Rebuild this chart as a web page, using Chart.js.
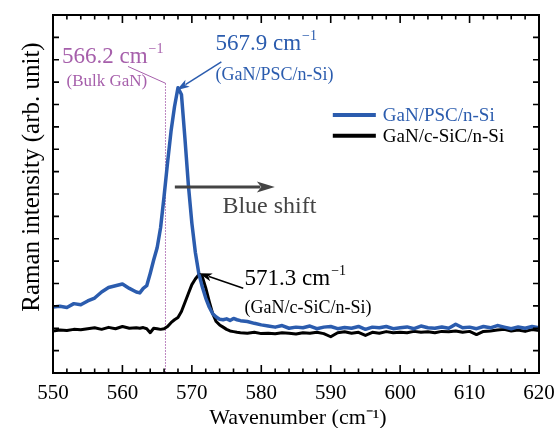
<!DOCTYPE html>
<html>
<head>
<meta charset="utf-8">
<script src="https://cdn.jsdelivr.net/npm/chart.js@4/dist/chart.umd.min.js"></script>
<style>
  html, body { margin: 0; padding: 0; background: #fff; }
  #wrap { width: 556px; height: 428px; }
</style>
</head>
<body>
<div id="wrap"><canvas id="raman"></canvas></div>
<script>
// wavenumber grid (cm-1), finer around the peaks
const wavenumber = [
  550, 551, 552, 553, 554, 555, 556, 557, 558, 559, 560, 561, 562,
  562.5, 563, 563.5, 564, 564.5, 565, 565.5, 566, 566.5, 567, 567.5, 568, 568.5,
  569, 569.5, 570, 570.5, 571, 571.5, 572, 572.5, 573, 573.5, 574, 574.5, 575,
  575.5, 576, 576.5,
  577, 578, 579, 580, 581, 582, 583, 584, 585, 586, 587, 588, 589, 590,
  591, 592, 593, 594, 595, 596, 597, 598, 599, 600, 601, 602, 603, 604,
  605, 606, 607, 608, 609, 610, 611, 612, 613, 614, 615, 616, 617, 618, 619, 620
];

const pscIntensity = [
  2.95, 2.98, 2.93, 3.10, 3.05, 3.22, 3.35, 3.62, 3.82, 3.90, 3.98, 3.78, 3.62,
  3.58, 3.78, 3.90, 4.45, 5.05, 5.60, 6.50, 7.90, 9.40, 10.80, 11.90, 12.75, 12.45,
  10.50, 8.40, 6.70, 5.40, 4.45, 3.85, 3.35, 2.95, 2.65, 2.50, 2.40, 2.38, 2.42,
  2.35, 2.44, 2.38,
  2.34, 2.30, 2.22, 2.15, 2.10, 2.05, 2.12, 2.00, 2.05, 2.02, 2.10, 1.98, 2.05, 2.08,
  1.98, 2.03, 2.00, 2.08, 1.95, 2.05, 2.02, 2.08, 1.98, 2.02, 2.06, 1.98, 2.10, 2.02,
  2.00, 2.06, 2.00, 2.18, 2.02, 2.05, 1.98, 2.08, 2.02, 2.12, 2.05, 1.98, 2.06, 2.00, 2.08, 2.02
];

const sicIntensity = [
  1.88, 1.92, 1.90, 1.95, 1.93, 1.98, 2.02, 1.95, 2.04, 1.98, 2.08, 2.00, 2.02,
  2.00, 2.03, 1.98, 1.80, 2.00, 1.98, 1.95, 1.98, 2.08, 2.25, 2.38, 2.48, 2.75,
  3.15, 3.55, 3.95, 4.20, 4.40, 4.30, 3.80, 3.20, 2.65, 2.30, 2.15, 2.05, 1.95,
  1.88, 1.85, 1.82,
  1.80, 1.78, 1.82, 1.76, 1.78, 1.75, 1.80, 1.78, 1.74, 1.80, 1.78, 1.82, 1.76, 1.62,
  1.80, 1.84, 1.78, 1.82, 1.68, 1.82, 1.78, 1.85, 1.80, 1.82, 1.80, 1.86, 1.82, 1.84,
  1.80, 1.86, 1.84, 1.88, 1.82, 1.86, 1.72, 1.86, 1.88, 1.92, 1.95, 1.88, 1.92, 1.86, 1.94, 1.90
];

const seriesNames = ['GaN/PSC/n-Si', 'GaN/c-SiC/n-Si'];
const seriesColors = ['#2b5cae', '#000000'];

const bulkPeak = 566.2;
const pscPeak = 567.9;
const sicPeak = 571.3;

const serif = '"Liberation Serif", "Times New Roman", serif';
const purple = '#a65fab';

function pointsOf(ys) {
  return wavenumber.map((x, i) => ({ x: x, y: ys[i] }));
}

function arrow(ctx, x1, y1, x2, y2, color, width, headLen, headW) {
  const ang = Math.atan2(y2 - y1, x2 - x1);
  ctx.save();
  ctx.strokeStyle = color;
  ctx.fillStyle = color;
  ctx.lineWidth = width;
  ctx.beginPath();
  ctx.moveTo(x1, y1);
  ctx.lineTo(x2 - Math.cos(ang) * headLen * 0.8, y2 - Math.sin(ang) * headLen * 0.8);
  ctx.stroke();
  ctx.translate(x2, y2);
  ctx.rotate(ang);
  ctx.beginPath();
  ctx.moveTo(0, 0);
  ctx.lineTo(-headLen, -headW / 2);
  ctx.lineTo(-headLen * 0.75, 0);
  ctx.lineTo(-headLen, headW / 2);
  ctx.closePath();
  ctx.fill();
  ctx.restore();
}

// "566.2 cm" followed by a small raised "-1"
function cmLabel(ctx, value, x, y, size, color) {
  ctx.save();
  ctx.fillStyle = color;
  ctx.textAlign = 'left';
  ctx.textBaseline = 'alphabetic';
  ctx.font = size + 'px ' + serif;
  const main = value.toFixed(1) + ' cm';
  ctx.fillText(main, x, y);
  const w = ctx.measureText(main).width;
  ctx.font = Math.round(size * 0.6) + 'px ' + serif;
  ctx.fillText('\u22121', w + x + 1, y - size * 0.42);
  ctx.restore();
}

const decorations = {
  id: 'decorations',
  beforeDatasetsDraw(chart) {
    const { ctx, scales: { x, y } } = chart;
    // dotted reference line for bulk GaN
    ctx.save();
    ctx.strokeStyle = purple;
    ctx.lineWidth = 1;
    ctx.setLineDash([1.5, 1.5]);
    ctx.beginPath();
    ctx.moveTo(x.getPixelForValue(bulkPeak), y.getPixelForValue(12.95));
    ctx.lineTo(x.getPixelForValue(bulkPeak), y.bottom);
    ctx.stroke();
    ctx.setLineDash([]);
    ctx.beginPath();
    ctx.moveTo(x.getPixelForValue(560.8), y.getPixelForValue(13.7));
    ctx.lineTo(x.getPixelForValue(bulkPeak), y.getPixelForValue(12.95));
    ctx.stroke();
    ctx.restore();
  },
  afterDatasetsDraw(chart) {
    const { ctx, chartArea: a, scales: { x, y } } = chart;

    // frame
    ctx.save();
    ctx.strokeStyle = '#000';
    ctx.lineWidth = 2;
    ctx.strokeRect(a.left, a.top, a.right - a.left, a.bottom - a.top);

    // inward ticks
    ctx.lineWidth = 1.6;
    ctx.beginPath();
    for (let v = 550; v <= 620; v += 2) {
      const px = x.getPixelForValue(v);
      const len = v % 10 === 0 ? 8 : 4.5;
      ctx.moveTo(px, a.bottom); ctx.lineTo(px, a.bottom - len);
      ctx.moveTo(px, a.top); ctx.lineTo(px, a.top + len);
    }
    for (let v = 0; v <= 16; v += 1) {
      const py = y.getPixelForValue(v);
      ctx.moveTo(a.left, py); ctx.lineTo(a.left + 6, py);
      ctx.moveTo(a.right, py); ctx.lineTo(a.right - 6, py);
    }
    ctx.stroke();
    ctx.restore();

    // axis titles
    ctx.save();
    ctx.fillStyle = '#000';
    ctx.textAlign = 'center';
    ctx.textBaseline = 'alphabetic';
    ctx.font = '22px ' + serif;
    ctx.fillText('Wavenumber (cm\u207B\u00B9)', (a.left + a.right) / 2 + 2, 424);
    ctx.translate(39, 177);
    ctx.rotate(-Math.PI / 2);
    ctx.font = '25px ' + serif;
    ctx.fillText('Raman intensity (arb. unit)', 0, 0);
    ctx.restore();

    // peak labels
    cmLabel(ctx, bulkPeak, x.getPixelForValue(551.3), y.getPixelForValue(13.85), 23, purple);
    cmLabel(ctx, pscPeak, x.getPixelForValue(573.4), y.getPixelForValue(14.43), 23, seriesColors[0]);
    cmLabel(ctx, sicPeak, x.getPixelForValue(577.6), y.getPixelForValue(3.94), 23, '#000');

    ctx.save();
    ctx.textAlign = 'left';
    ctx.font = '17px ' + serif;
    ctx.fillStyle = purple;
    ctx.fillText('(Bulk GaN)', x.getPixelForValue(551.95), y.getPixelForValue(12.83));
    ctx.font = '18px ' + serif;
    ctx.fillStyle = seriesColors[0];
    ctx.fillText('(' + seriesNames[0] + ')', x.getPixelForValue(573.4), y.getPixelForValue(13.09));
    ctx.fillStyle = '#000';
    ctx.fillText('(' + seriesNames[1] + ')', x.getPixelForValue(577.6), y.getPixelForValue(2.69));

    ctx.font = '24px ' + serif;
    ctx.fillStyle = '#444';
    ctx.fillText('Blue shift', x.getPixelForValue(574.4), y.getPixelForValue(7.14));
    ctx.restore();

    // arrows
    arrow(ctx, x.getPixelForValue(574.25), y.getPixelForValue(13.9),
      x.getPixelForValue(567.8), y.getPixelForValue(12.64), seriesColors[0], 1.5, 13, 8);
    arrow(ctx, x.getPixelForValue(577.4), y.getPixelForValue(3.79),
      x.getPixelForValue(571.05), y.getPixelForValue(4.46), '#000', 1.5, 13, 8);
    arrow(ctx, x.getPixelForValue(567.55), y.getPixelForValue(8.31),
      x.getPixelForValue(581.95), y.getPixelForValue(8.31), '#444', 3, 18, 11);

    // legend
    ctx.save();
    ctx.font = '19px ' + serif;
    ctx.textBaseline = 'middle';
    const legY = [11.53, 10.6];
    seriesNames.forEach((name, i) => {
      const py = y.getPixelForValue(legY[i]);
      ctx.strokeStyle = seriesColors[i];
      ctx.lineWidth = 4;
      ctx.beginPath();
      ctx.moveTo(x.getPixelForValue(590.3), py);
      ctx.lineTo(x.getPixelForValue(596.5), py);
      ctx.stroke();
      ctx.fillStyle = seriesColors[i];
      ctx.fillText(name, x.getPixelForValue(597.5), py + 1);
    });
    ctx.restore();
  }
};

new Chart(document.getElementById('raman'), {
  type: 'line',
  data: {
    datasets: [
      { label: seriesNames[0], data: pointsOf(pscIntensity), borderColor: seriesColors[0], borderWidth: 3.5 },
      { label: seriesNames[1], data: pointsOf(sicIntensity), borderColor: seriesColors[1], borderWidth: 3 }
    ]
  },
  options: {
    responsive: true,
    maintainAspectRatio: false,
    animation: false,
    layout: { padding: { top: 15, right: 17, left: 0, bottom: 0 } },
    elements: { point: { radius: 0 }, line: { tension: 0, borderJoinStyle: 'round' } },
    plugins: { legend: { display: false }, tooltip: { enabled: false } },
    scales: {
      x: {
        type: 'linear',
        min: 550, max: 620,
        afterFit: (s) => { s.height = 55; s.paddingLeft = 0; s.paddingRight = 0; },
        border: { display: false },
        grid: { display: false, drawTicks: false },
        ticks: { stepSize: 10, padding: 8, color: '#000', font: { family: serif, size: 21 } }
      },
      y: {
        min: 0, max: 16,
        afterFit: (s) => { s.width = 53; s.paddingTop = 0; s.paddingBottom = 0; },
        border: { display: false },
        grid: { display: false, drawTicks: false },
        ticks: { display: false }
      }
    }
  },
  plugins: [decorations]
});
</script>
</body>
</html>
